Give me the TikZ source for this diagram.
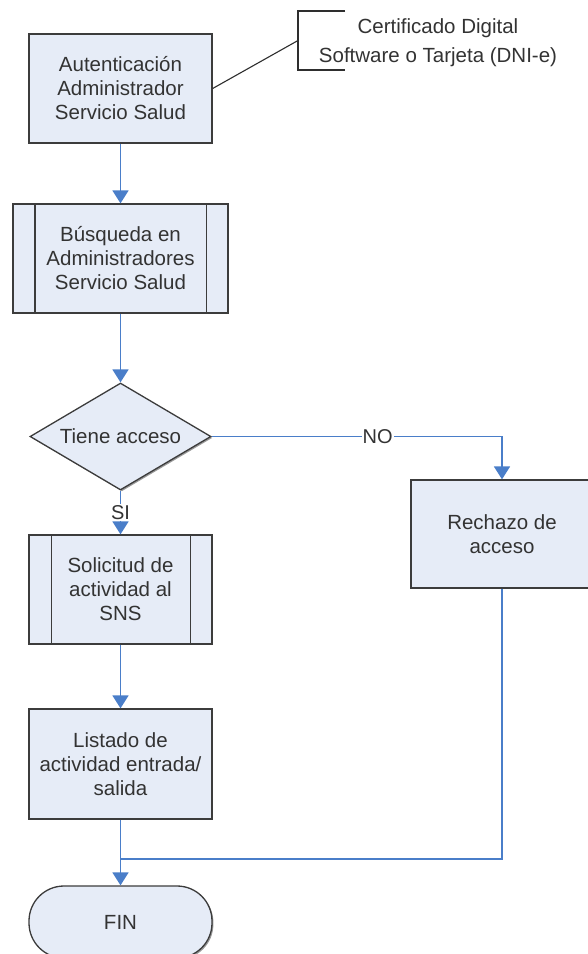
\documentclass[tikz,border=0pt]{standalone}
\usepackage{fontspec}
\setmainfont{Liberation Sans}
\usetikzlibrary{shapes.geometric,arrows.meta,calc,shadows}

\definecolor{boxfill}{HTML}{E6ECF7}
\definecolor{boxedge}{HTML}{3C3C3C}
\definecolor{flowblue}{HTML}{4A7EC9}
\definecolor{notegray}{HTML}{2E2E2E}

\tikzset{
  shape base/.style={draw=boxedge, line width=1.3pt, fill=boxfill, inner sep=0pt,
    align=center, font=\fontsize{20.5}{24}\selectfont, text=black!80,
    drop shadow={shadow xshift=1.4pt, shadow yshift=-1.4pt, fill=black!40, opacity=1}},
  stepbox/.style={shape base, rectangle, minimum width=183pt, minimum height=109pt},
  subbox/.style={shape base, rectangle, minimum width=215pt, minimum height=109pt},
  decisionbox/.style={shape base, diamond, minimum width=181pt, minimum height=107pt, aspect=1.69},
  endbox/.style={shape base, rectangle, rounded corners=35pt, minimum width=183pt, minimum height=72pt},
  flow/.style={draw=flowblue, line width=1.8pt},
  flowarrow/.style={flow, -{Triangle[width=16pt,length=13pt]}},
  branchlabel/.style={fill=white, inner sep=1pt, font=\fontsize{20}{24}\selectfont, text=black!80},
  noteline/.style={draw=notegray, line width=1.1pt},
}

\begin{document}
\begin{tikzpicture}[x=1pt, y=-1pt]
  \useasboundingbox (0,0) rectangle (588,954);
  \clip (0,0) rectangle (588,954);
  \fill[white] (0,0) rectangle (588,954);

  % process steps
  \node[stepbox] (auth) at (120.5,88.5) {Autenticación\\Administrador\\Servicio Salud};
  \node[subbox] (search) at (120.5,258.5) {Búsqueda en\\Administradores\\Servicio Salud};
  \node[decisionbox] (access) at (120.5,436.5) {Tiene acceso};
  \node[stepbox, minimum width=182pt, minimum height=108pt] (reject) at (502,534) {Rechazo de\\acceso};
  \node[stepbox] (request) at (120.5,589.5) {Solicitud de\\actividad al\\SNS};
  \node[stepbox, minimum height=110pt] (listing) at (120.5,764) {Listado de\\actividad entrada/\\salida};
  \node[endbox] (fin) at (120.5,922) {FIN};

  % side bars of the predefined-process boxes
  \draw[draw=boxedge, line width=1.3pt]
    ($(search.north west)+(22.5,0)$) -- ($(search.south west)+(22.5,0)$)
    ($(search.north east)+(-22.5,0)$) -- ($(search.south east)+(-22.5,0)$);
  \draw[draw=boxedge, line width=1.3pt]
    ($(request.north west)+(23,0)$) -- ($(request.south west)+(23,0)$)
    ($(request.north east)+(-22,0)$) -- ($(request.south east)+(-22,0)$);

  % annotation bracket
  \coordinate (notetop) at (345,11);
  \coordinate (notebottom) at (345,70);
  \coordinate (notemid) at (298,40.5);
  \draw[noteline] (notetop) -- (298,11) -- (298,70) -- (notebottom);
  \node[font=\fontsize{20.5}{29}\selectfont, text=black!80, align=center] (notetext) at (438,42.5)
    {Certificado Digital\\Software o Tarjeta (DNI-e)};
  \draw[noteline] (auth.east) -- (notemid);

  % flow connectors
  \draw[flowarrow] (auth.south) -- (search.north);
  \draw[flowarrow] (search.south) -- (access.north);
  \draw[flowarrow] (access.east) -| (reject.north) node[branchlabel, pos=0.286] {NO};
  \draw[flowarrow] (access.south) -- node[branchlabel] {SI} (request.north);
  \draw[flowarrow] (request.south) -- (listing.north);
  \draw[flowarrow] (listing.south) -- (fin.north);
  \coordinate (join) at (120.5,859);
  \draw[flow] (reject.south) |- (join);
\end{tikzpicture}
\end{document}
